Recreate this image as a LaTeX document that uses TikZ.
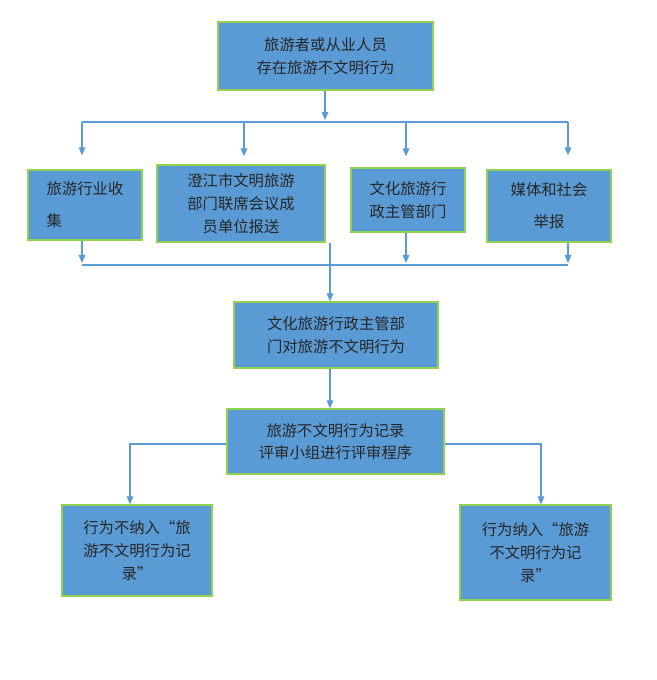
\documentclass[tikz,border=0pt]{standalone}
\usepackage{fontspec}
\setmainfont{Noto Sans CJK SC}
\usetikzlibrary{arrows.meta}
\definecolor{boxfill}{RGB}{91,155,213}
\definecolor{boxline}{RGB}{146,208,80}
\definecolor{flowline}{RGB}{91,155,213}
\tikzset{every picture/.style={line width=0.75pt}}
\tikzset{
  flowbox/.style={draw=boxline, fill=boxfill, line width=1pt, inner sep=0pt, text=black!85, font=\fontsize{11.5}{17}\selectfont, align=center},
  flowarrow/.style={draw=flowline, line width=0.9pt, -{Triangle[width=5pt,length=6pt]}},
  flowlink/.style={draw=flowline, line width=0.9pt}
}

\begin{document}
\begin{tikzpicture}[x=0.75pt,y=0.75pt,yscale=-1,xscale=1]
\useasboundingbox (0,0) rectangle (656,680);

% Boxes
\node [flowbox, minimum width=215*0.75pt, minimum height=68*0.75pt] (report) at (325.5,56) {旅游者或从业人员\\存在旅游不文明行为};
\node [flowbox, minimum width=114*0.75pt, minimum height=70*0.75pt, align=left, font=\fontsize{11.5}{24}\selectfont] (collect) at (85,205) {旅游行业收\\集};
\node [flowbox, minimum width=168*0.75pt, minimum height=77*0.75pt] (council) at (241,203.5) {澄江市文明旅游\\部门联席会议成\\员单位报送};
\node [flowbox, minimum width=114*0.75pt, minimum height=64*0.75pt] (admin) at (408,200) {文化旅游行\\政主管部门};
\node [flowbox, minimum width=124*0.75pt, minimum height=72*0.75pt, font=\fontsize{11.5}{24}\selectfont] (media) at (549,206) {媒体和社会\\举报};
\node [flowbox, minimum width=204*0.75pt, minimum height=66*0.75pt] (handle) at (336,335) {文化旅游行政主管部\\门对旅游不文明行为};
\node [flowbox, minimum width=217*0.75pt, minimum height=65*0.75pt] (review) at (335.5,441.5) {旅游不文明行为记录\\评审小组进行评审程序};
\node [flowbox, minimum width=150*0.75pt, minimum height=91*0.75pt] (reject) at (137,550.5) {行为不纳入“旅\\游不文明行为记\\录”};
\node [flowbox, minimum width=151*0.75pt, minimum height=95*0.75pt] (accept) at (535.5,552.5) {行为纳入“旅游\\不文明行为记\\录”};

% Split to the four sources
\coordinate (splitc) at (325,122);
\coordinate (splitl) at (82,122);
\coordinate (splitr) at (568,122);
\draw [flowarrow] (report.south -| splitc) -- ([yshift=-2*0.75pt]splitc);
\draw [flowlink] (splitl) -- (splitr);
\draw [flowarrow, shorten >=14*0.75pt] (splitl) -- (splitl |- collect.north);
\draw [flowarrow, shorten >=8*0.75pt] (244,122) -- (244,122 |- council.north);
\draw [flowarrow, shorten >=11*0.75pt] (406,122) -- (406,122 |- admin.north);
\draw [flowarrow, shorten >=14*0.75pt] (splitr) -- (splitr |- media.north);

% Merge
\coordinate (mergel) at (82,265);
\coordinate (merger) at (568,265);
\draw [flowarrow, shorten >=2*0.75pt] (mergel |- collect.south) -- (mergel);
\draw [flowarrow, shorten >=2*0.75pt] (406,0 |- admin.south) -- (406,265);
\draw [flowarrow, shorten >=2*0.75pt] (merger |- media.south) -- (merger);
\draw [flowlink] (mergel) -- (merger);
\draw [flowarrow] (330,0 |- council.south) -- (330,0 |- handle.north);
\draw [flowarrow] (330,0 |- handle.south) -- (330,0 |- review.north);

% Outcomes
\draw [flowarrow] (review.west |- 0,444) -| (130,0 |- reject.north);
\draw [flowarrow] (review.east |- 0,444) -| (541,0 |- accept.north);

\end{tikzpicture}
\end{document}
